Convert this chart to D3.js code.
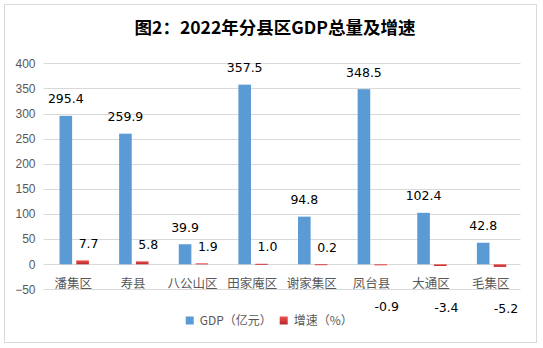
<!DOCTYPE html>
<html><head><meta charset="utf-8">
<script src="https://cdn.jsdelivr.net/npm/d3@7"></script>
<style>
html,body{margin:0;padding:0;background:#fff;}
svg{display:block;}
</style></head>
<body>
<svg id="c" width="543" height="348"></svg>
<script>
const categories = ["潘集区","寿县","八公山区","田家庵区","谢家集区","凤台县","大通区","毛集区"];
const gdpValues = [295.4, 259.9, 39.9, 357.5, 94.8, 348.5, 102.4, 42.8];
const growthValues = [7.7, 5.8, 1.9, 1.0, 0.2, -0.9, -3.4, -5.2];
const yTicks = [-50, 0, 50, 100, 150, 200, 250, 300, 350, 400];
const seriesNames = ["GDP（亿元）", "增速（%）"];
const titleText = "图2：2022年分县区GDP总量及增速";

const svg = d3.select("#c");
const defs = svg.append("defs");
const grad = defs.append("linearGradient").attr("id","redg").attr("x1",0).attr("y1",0).attr("x2",0).attr("y2",1);
grad.append("stop").attr("offset","0%").attr("stop-color","#f0504f");
grad.append("stop").attr("offset","100%").attr("stop-color","#b3282a");

// chart border
svg.append("rect").attr("x",4.5).attr("y",4.5).attr("width",532).attr("height",338)
  .attr("fill","#fff").attr("stroke","#d9d9d9").attr("stroke-width",1);

// title
svg.append("text").attr("x",275).attr("y",34).attr("text-anchor","middle")
  .attr("font-family","'Noto Sans CJK SC'").attr("font-weight","bold").attr("font-size",17.5)
  .attr("fill","#000").text(titleText);

const x = d3.scaleBand().domain(categories).range([43.5, 520.5]);
const y = d3.scaleLinear().domain([-50, 400]).range([289.4, 63.3]);

// gridlines
svg.append("g").selectAll("line").data(yTicks).join("line")
  .attr("x1",43.5).attr("x2",520.5)
  .attr("y1",d=>Math.round(y(d))+0.5).attr("y2",d=>Math.round(y(d))+0.5)
  .attr("stroke","#d9d9d9").attr("stroke-width",1);

// y axis labels
const yAxis = d3.axisLeft(y).tickValues(yTicks).tickSize(0).tickPadding(0);
const ya = svg.append("g").attr("transform","translate(35.5,0)").call(yAxis);
ya.select(".domain").remove();
ya.selectAll("text").attr("font-family","'Liberation Sans', Arial").attr("font-size",12).attr("fill","#595959");

const bw = x.bandwidth();
const barW = 12.6;
const blueOff = bw/2 - 2.1 - barW + 0.9;
const redOff = bw/2 + 2.1 + 0.9;

// GDP bars
svg.append("g").selectAll("rect").data(gdpValues).join("rect")
  .attr("x",(d,i)=>x(categories[i])+blueOff).attr("width",barW)
  .attr("y",d=>y(Math.max(0,d))).attr("height",d=>Math.abs(y(d)-y(0)))
  .attr("fill","#5b9bd5");

// growth bars
svg.append("g").selectAll("rect").data(growthValues).join("rect")
  .attr("x",(d,i)=>x(categories[i])+redOff).attr("width",barW)
  .attr("y",d=>y(Math.max(0,d))).attr("height",d=>Math.max(1,Math.abs(y(d)-y(0))))
  .attr("fill","url(#redg)");

// x axis category labels
svg.append("g").selectAll("text").data(categories).join("text")
  .attr("x",d=>x(d)+bw/2).attr("y",287.5).attr("text-anchor","middle")
  .attr("font-family","'Noto Sans CJK SC'").attr("font-size",12.5).attr("fill","#595959")
  .text(d=>d);

// data labels GDP
svg.append("g").selectAll("text").data(gdpValues).join("text")
  .attr("x",(d,i)=>x(categories[i])+blueOff+barW/2).attr("y",d=>y(d)-12.5)
  .attr("text-anchor","middle").attr("font-family","'DejaVu Sans'").attr("font-size",12.5)
  .attr("fill","#000").text(d=>d.toFixed(1));

// data labels growth
svg.append("g").selectAll("text").data(growthValues).join("text")
  .attr("x",(d,i)=>x(categories[i])+redOff+barW/2+6).attr("y",d=>d>=0 ? y(d)-12.5 : y(d)+46)
  .attr("text-anchor","middle").attr("font-family","'DejaVu Sans'").attr("font-size",12.5)
  .attr("fill","#000").text(d=>d.toFixed(1));

// legend
const leg = svg.append("g");
const legItems = [{name:seriesNames[0], fill:"#5b9bd5", x:185.7},{name:seriesNames[1], fill:"url(#redg)", x:279.7}];
legItems.forEach(it=>{
  leg.append("rect").attr("x",it.x).attr("y",316.5).attr("width",8).attr("height",8).attr("fill",it.fill);
  leg.append("text").attr("x",it.x+14).attr("y",325).attr("font-family","'Noto Sans CJK SC'")
    .attr("font-size",12).attr("fill","#595959").text(it.name);
});
</script>
</body></html>
